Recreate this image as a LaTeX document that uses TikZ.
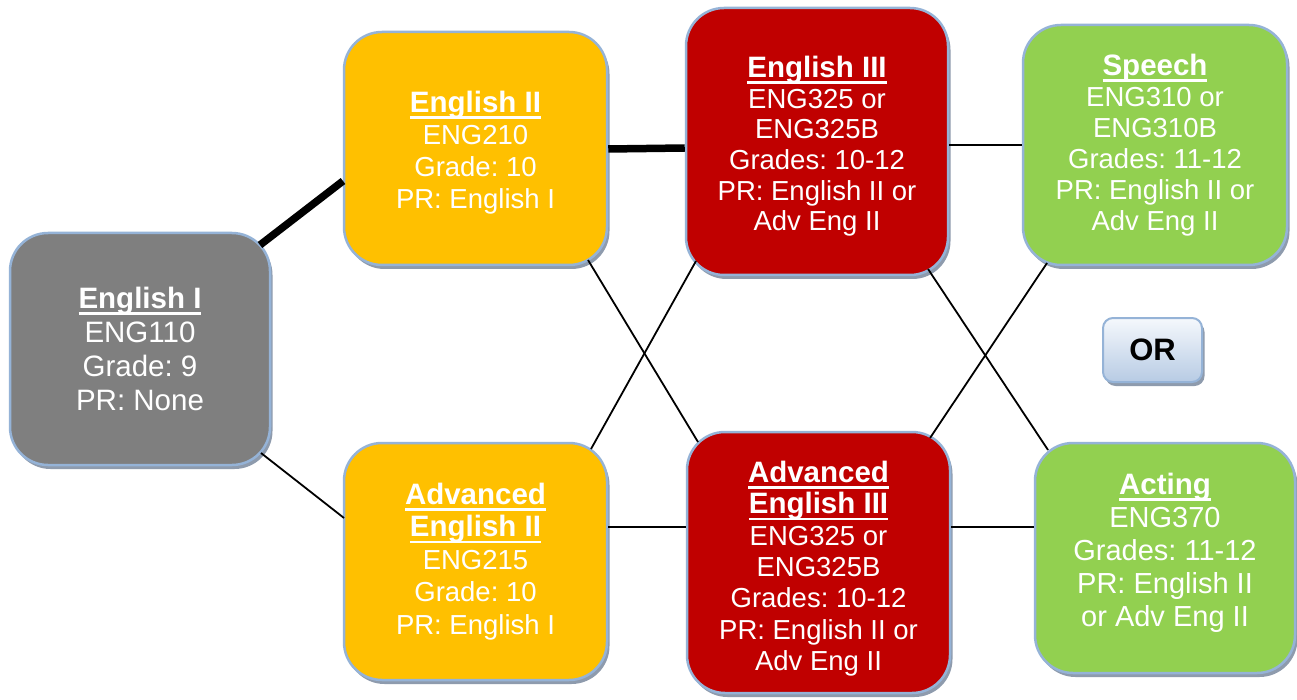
\documentclass[tikz,border=0pt]{standalone}
\usepackage{fontspec}
\setmainfont{Liberation Sans}
\usetikzlibrary{shadows,calc}
\definecolor{bordc}{RGB}{149,179,215}
\definecolor{shadc}{RGB}{142,155,173}
\definecolor{grayc}{RGB}{127,127,127}
\definecolor{yelc}{RGB}{255,192,0}
\definecolor{redc}{RGB}{192,0,0}
\definecolor{grnc}{RGB}{146,208,80}
\definecolor{ortop}{RGB}{245,248,252}
\definecolor{orbot}{RGB}{183,203,228}
\frenchspacing
\newcommand\ulbar[1]{\setbox0\hbox{#1}\rlap{\rule[-6.5pt]{\wd0}{2.8pt}}\box0}
\newcommand\ttl[1]{{\fontsize{29.5}{31}\selectfont\bfseries\ulbar{#1}}}
\newcommand\topstrut[1]{\rule{0pt}{#1}}
\newcommand\botstrut[1]{\rule[-#1]{0pt}{0pt}}
\tikzset{
  course/.style={draw=bordc, line width=2.5pt, rounded corners=38pt, text=white,
    align=center, inner sep=0pt,
    drop shadow={shadow xshift=2.5pt, shadow yshift=-4pt, fill=shadc, opacity=1},
    font=\fontsize{27.5}{31}\selectfont},
  link/.style={line width=1.8pt, black},
  heavylink/.style={line width=7.5pt, black},
}
\begin{document}
\begin{tikzpicture}[x=1pt,y=-1pt]
\useasboundingbox[fill=white] (0,0) rectangle (1297,700);
\node[course, fill=grayc, minimum width=260pt, minimum height=232pt,
  font=\fontsize{29.5}{34}\selectfont] (e1) at (140,349)
  {\ttl{English I}\\ENG110\\Grade: 9\\PR: None};
\node[course, fill=yelc, minimum width=263pt, minimum height=233pt,
  font=\fontsize{27.5}{32}\selectfont] (e2) at (475.5,148.5)
  {\topstrut{30pt}\ttl{English II}\\ENG210\\Grade: 10\\PR: English I};
\node[course, fill=yelc, minimum width=263pt, minimum height=237pt,
  font=\fontsize{27.5}{32.5}\selectfont] (a2) at (475.5,561.5)
  {\ttl{Advanced}\\\ttl{English II}\\ENG215\\Grade: 10\\PR: English I};
\node[course, fill=redc, minimum width=262pt, minimum height=267pt,
  font=\fontsize{27.5}{30.7}\selectfont] (e3) at (817,141.5)
  {\topstrut{31pt}\ttl{English III}\\ENG325 or\\ENG325B\\Grades: 10-12\\PR: English II or\\Adv Eng II};
\node[course, fill=redc, minimum width=263pt, minimum height=261pt,
  font=\fontsize{27.5}{31.3}\selectfont] (a3) at (818.5,562.5)
  {\topstrut{33.5pt}\ttl{Advanced}\\\ttl{English III}\\ENG325 or\\ENG325B\\Grades: 10-12\\PR: English II or\\Adv Eng II};
\node[course, fill=grnc, minimum width=264pt, minimum height=240pt] (sp) at (1155,145)
  {\ttl{Speech}\\ENG310 or\\ENG310B\\Grades: 11-12\\PR: English II or\\Adv Eng II};
\node[course, fill=grnc, minimum width=260pt, minimum height=230pt,
  font=\fontsize{29}{33}\selectfont] (ac) at (1165,558)
  {\ttl{Acting}\\ENG370\\Grades: 11-12\\PR: English II\\or Adv Eng II\botstrut{16pt}};
\node[draw=bordc, line width=2pt, rounded corners=10pt, top color=ortop, bottom color=orbot,
  minimum width=99pt, minimum height=64pt, inner sep=0pt,
  drop shadow={shadow xshift=2.5pt, shadow yshift=-4pt, fill=shadc, opacity=1},
  font=\fontsize{31}{36}\selectfont\bfseries] (or) at (1152.5,350) {OR};
% connectors
\draw[heavylink] ($(e1.center)+(120,-104)$) -- ($(e2.center)+(-132.5,32.5)$);
\draw[heavylink] ($(e2.east)+(0,0.5)$) -- ($(e3.west)+(0,6.5)$);
\draw[link] ($(e1.center)+(121,104)$) -- ($(a2.center)+(-131.5,-43.5)$);
\draw[link] ($(e2.center)+(112.5,111.5)$) -- ($(a3.center)+(-120.5,-120.5)$);
\draw[link] ($(a2.center)+(115.5,-112.5)$) -- ($(e3.center)+(-121,119.5)$);
\draw[link] ($(a2.east)+(0,-34.5)$) -- ($(a3.west)+(0,-35.5)$);
\draw[link] ($(e3.east)+(0,3.5)$) -- ($(sp.west)+(0,0)$);
\draw[link] ($(e3.center)+(111,127.5)$) -- ($(ac.center)+(-117,-108)$);
\draw[link] ($(a3.center)+(111.5,-124.5)$) -- ($(sp.center)+(-108,118)$);
\draw[link] ($(a3.east)+(0,-35.5)$) -- ($(ac.west)+(0,-31)$);
\end{tikzpicture}
\end{document}
